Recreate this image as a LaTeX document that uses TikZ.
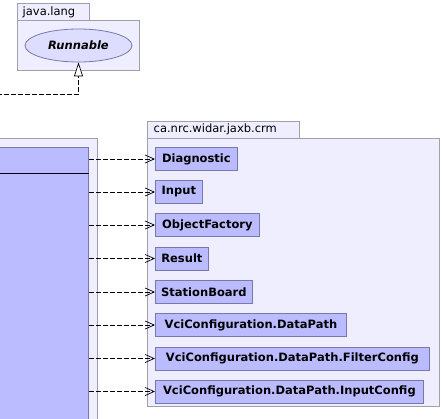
\documentclass[tikz,border=0pt]{standalone}
\usepackage{fontspec}
\setmainfont{DejaVu Sans}
\usetikzlibrary{arrows.meta,shapes.geometric}
\definecolor{clsfill}{RGB}{187,187,255}
\definecolor{clsdraw}{RGB}{120,120,170}
\definecolor{pkgfill}{RGB}{238,238,255}
\definecolor{pkgdraw}{RGB}{160,160,170}
\definecolor{ifill}{RGB}{221,221,255}
\tikzset{
  pkg/.style={draw=pkgdraw,fill=pkgfill,line width=0.8pt},
  pkglabel/.style={anchor=west,inner sep=0pt,font=\fontsize{11.5}{13}\selectfont},
  cls/.style={draw=clsdraw,fill=clsfill,line width=0.8pt,anchor=west,minimum height=23pt,inner xsep=0pt,font=\bfseries\fontsize{11.5}{13}\selectfont},
  dep/.style={dash pattern=on 5pt off 2pt,line width=0.7pt,-{Straight Barb[length=9pt,width=8pt,line width=0.7pt]}},
  real/.style={dash pattern=on 5pt off 2pt,line width=0.7pt,-{Triangle[length=14pt,width=9pt,fill=white,line width=0.7pt]}}
}
\begin{document}
\begin{tikzpicture}[x=1pt,y=-1pt]
\useasboundingbox (0,0) rectangle (442,418);
% java.lang package
\draw[pkg] (17.5,3) rectangle (89,20.5);
\node[pkglabel] (jltab) at (22.5,12) {java.lang};
\draw[pkg] (17.5,20.5) rectangle (139,70);
\node[draw=clsdraw,fill=ifill,ellipse,line width=0.8pt,minimum width=107pt,minimum height=33pt,inner sep=0pt,font=\bfseries\itshape\fontsize{11.5}{13}\selectfont] (run) at (78.5,45.5) {Runnable};
% left package
\draw[pkg] (-5,138) rectangle (97,430);
\node[draw=clsdraw,fill=clsfill,line width=0.8pt,anchor=north east,minimum width=100pt,minimum height=290pt,inner sep=0pt] (main) at (89,147) {};
\draw[line width=0.8pt] (-5,173) -- (89,173);
% right package
\draw[pkg] (147,121) rectangle (299,138);
\node[pkglabel] (crmtab) at (153.5,129.5) {ca.nrc.widar.jaxb.crm};
\draw[pkg] (147,138) rectangle (439,406);
% classes
\node[cls,minimum width=82pt] (c1) at (155,159) {Diagnostic};
\node[cls,minimum width=47pt] (c2) at (155,192) {Input};
\node[cls,minimum width=104pt] (c3) at (155,225) {ObjectFactory};
\node[cls,minimum width=53pt] (c4) at (155,258.5) {Result};
\node[cls,minimum width=97pt] (c5) at (155,292) {StationBoard};
\node[cls,minimum width=191pt] (c6) at (155,325) {VciConfiguration.DataPath};
\node[cls,minimum width=274pt] (c7) at (155,358.5) {VciConfiguration.DataPath.FilterConfig};
\node[cls,minimum width=268pt] (c8) at (155,391.5) {VciConfiguration.DataPath.InputConfig};
\foreach \i in {1,...,8}{
  \draw[dep] (main.east |- c\i.west) -- (c\i.west);
}
% realization
\coordinate (src) at (-3,94);
\draw[real] (src) -- (run.south |- src) -- (run.south);
\end{tikzpicture}
\end{document}
